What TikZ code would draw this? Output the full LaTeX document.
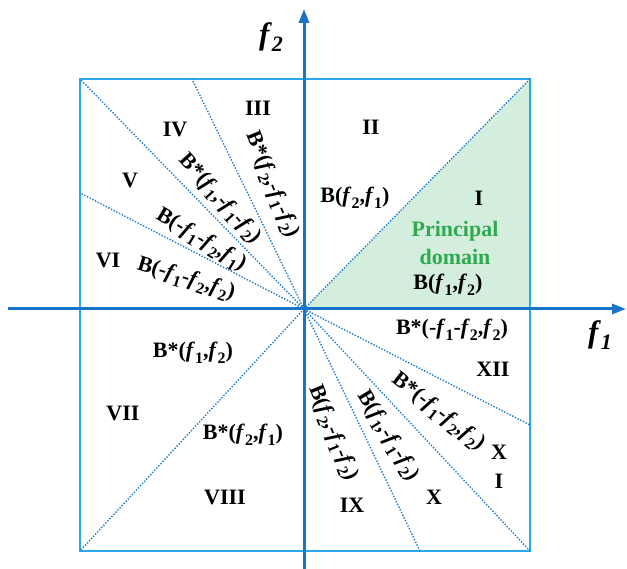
\documentclass[tikz,border=0pt]{standalone}
\usepackage{fontspec}
\setmainfont{Liberation Serif}
\usetikzlibrary{arrows.meta}

\definecolor{boxblue}{HTML}{29A8F0}
\definecolor{axisblue}{HTML}{1874C8}
\definecolor{dotblue}{HTML}{1E7CD2}
\definecolor{domfill}{HTML}{D4EEDD}
\definecolor{domtext}{HTML}{2DAA4E}

% italic f with a lowered index
\newcommand{\ff}[1]{\textit{f}\raisebox{-0.25em}{\fontsize{16}{16}\selectfont #1}}
\newcommand{\bigf}[1]{\textit{f}\raisebox{-0.25em}{\fontsize{22}{22}\selectfont\textit{#1}}}

\tikzset{
  lab/.style={font=\fontsize{22}{24}\selectfont\bfseries, inner sep=0pt},
  sector/.style={dotblue, line width=1.4pt, dash pattern=on 1.4pt off 1.6pt},
  frame/.style={boxblue, line width=2.2pt},
  axis/.style={axisblue, line width=3pt, -{Triangle[length=14pt,width=10pt]}},
}

\begin{document}
\begin{tikzpicture}[x=1pt,y=-1pt]
        \useasboundingbox (0,0) rectangle (627,569);
        % corners and ends
        \coordinate (O) at (304,309);
        \coordinate (tl) at (80,79);
        \coordinate (tr) at (530,79);
        \coordinate (br) at (530,551);
        \coordinate (bl) at (80,551);
        \coordinate (xa) at (8,309);
        \coordinate (xb) at (626,309);
        \coordinate (ya) at (304,569);
        \coordinate (yb) at (304,9);
        \coordinate (rx) at (530,309);
        \coordinate (t1) at (192,79);
        \coordinate (l1) at (80,193);
        \coordinate (r1) at (530,425);
        \coordinate (b1) at (420,551);
        % principal domain
        \fill[domfill] (O) -- (tr) -- (rx) -- cycle;
        \draw[frame] (tl) rectangle (br);
        % sector lines
        \draw[sector] (O) -- (tl);
        \draw[sector] (O) -- (t1);
        \draw[sector] (O) -- (l1);
        \draw[sector] (O) -- (tr);
        \draw[sector] (O) -- (bl);
        \draw[sector] (O) -- (r1);
        \draw[sector] (O) -- (br);
        \draw[sector] (O) -- (b1);
        % axes
        \draw[axis] (xa) -- (xb);
        \draw[axis] (ya) -- (yb);
        \node[font=\fontsize{31}{31}\selectfont\bfseries] (fx) at (600,335) {\bigf{1}};
        \node[font=\fontsize{31}{31}\selectfont\bfseries] (fy) at (271,37) {\bigf{2}};
        % first quadrant
        \node[lab] (nII) at (371,127) {II};
        \node[lab] (nBb) at (355,198) {B(\ff{2},\ff{1})};
        \node[lab] (nI) at (479,198) {I};
        \node[lab, text=domtext, align=center, font=\fontsize{22}{28}\selectfont\bfseries] (dom) at (455,243) {Principal\\domain};
        \node[lab] (nBa) at (448,285) {B(\ff{1},\ff{2})};
        % second quadrant
        \node[lab] (nIII) at (258,108) {III};
        \node[lab] (nIV) at (175,129) {IV};
        \node[lab] (nV) at (130,180) {V};
        \node[lab] (nVI) at (108,260) {VI};
        \node[lab, rotate=-68] (sIII) at (272,185) {B*(\ff{2},-\ff{1}-\ff{2})};
        \node[lab, rotate=-48] (sIV) at (220,199) {B*(\ff{1},-\ff{1}-\ff{2})};
        \node[lab, rotate=-31] (sV) at (201,240) {B(-\ff{1}-\ff{2},\ff{1})};
        \node[lab, rotate=-17] (sVI) at (186,279) {B(-\ff{1}-\ff{2},\ff{2})};
        % third quadrant
        \node[lab] (sVII) at (193,353) {B*(\ff{1},\ff{2})};
        \node[lab] (nVII) at (123,413) {VII};
        \node[lab] (sVIII) at (243,435) {B*(\ff{2},\ff{1})};
        \node[lab] (nVIII) at (225,497) {VIII};
        % fourth quadrant
        \node[lab] (sXII) at (452,330) {B*(-\ff{1}-\ff{2},\ff{2})};
        \node[lab] (nXII) at (493,369) {XII};
        \node[lab, rotate=-38] (sXI) at (438,412) {B*(-\ff{1}-\ff{2},\ff{2})};
        \node[lab, align=center, font=\fontsize{22}{29}\selectfont\bfseries] (nXI) at (499,467) {X\\I};
        \node[lab, rotate=-59] (sX) at (388,436) {B(\ff{1},-\ff{1}-\ff{2})};
        \node[lab] (nX) at (434,497) {X};
        \node[lab, rotate=-68] (sIX) at (333,433) {B(\ff{2},-\ff{1}-\ff{2})};
        \node[lab] (nIX) at (352,505) {IX};
\end{tikzpicture}
\end{document}
